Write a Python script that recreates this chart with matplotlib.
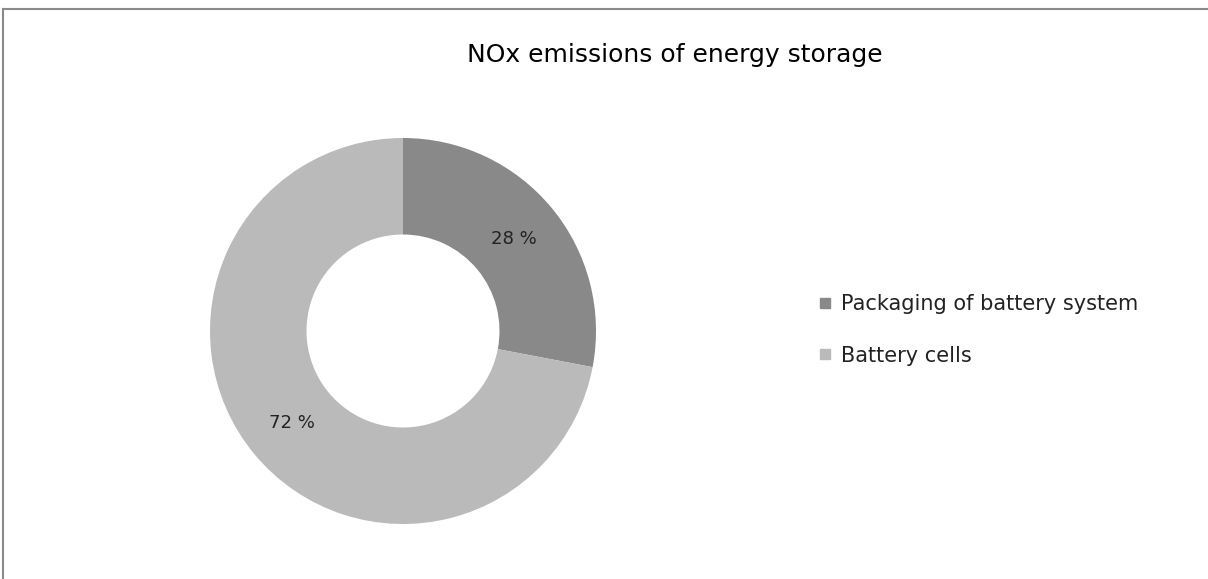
import matplotlib.pyplot as plt
from matplotlib.lines import Line2D
import numpy as np

# data
labels = ['Packaging of battery system', 'Battery cells']
shares = [28, 72]
colors = ['#898989', '#bababa']
title = 'NOx emissions of energy storage'

W, H = 1208, 579
fig = plt.figure(figsize=(W / 100, H / 100), dpi=100)

# donut axes: centre (403, 331), outer radius 193 px
cx, cy, R = 403, 331, 193
ax = fig.add_axes([(cx - R) / W, 1 - (cy + R) / H, 2 * R / W, 2 * R / H])
wedges, texts, autotexts = ax.pie(
    shares, colors=colors, startangle=90, counterclock=False,
    autopct=lambda p: '%d %%' % round(p), pctdistance=0.745,
    wedgeprops=dict(width=0.5, edgecolor='none'),
    textprops=dict(fontsize=13, color='#222222'))
ax.set_xlim(-1, 1)
ax.set_ylim(-1, 1)
ax.set_aspect('equal')

fig.text(675 / W, 1 - 55 / H, title, ha='center', va='center',
         fontsize=18, color='black')

handles = [Line2D([], [], marker='s', linestyle='none', markersize=7,
                  markerfacecolor=c, markeredgecolor=c) for c in colors]
fig.legend(handles, labels, loc='center left',
           bbox_to_anchor=(800 / W, 1 - 330 / H), frameon=False,
           fontsize=15, handlelength=0.6, handletextpad=0.45,
           labelspacing=1.5, labelcolor='#222222')

# chart frame (top and left edges visible)
fig.add_artist(Line2D([2.5 / W, 1], [1 - 8.5 / H, 1 - 8.5 / H],
                      color='#8a8a8a', lw=1.5))
fig.add_artist(Line2D([2.5 / W, 2.5 / W], [0, 1 - 8.5 / H],
                      color='#8a8a8a', lw=1.5))

fig.savefig('out.png', dpi=100)
